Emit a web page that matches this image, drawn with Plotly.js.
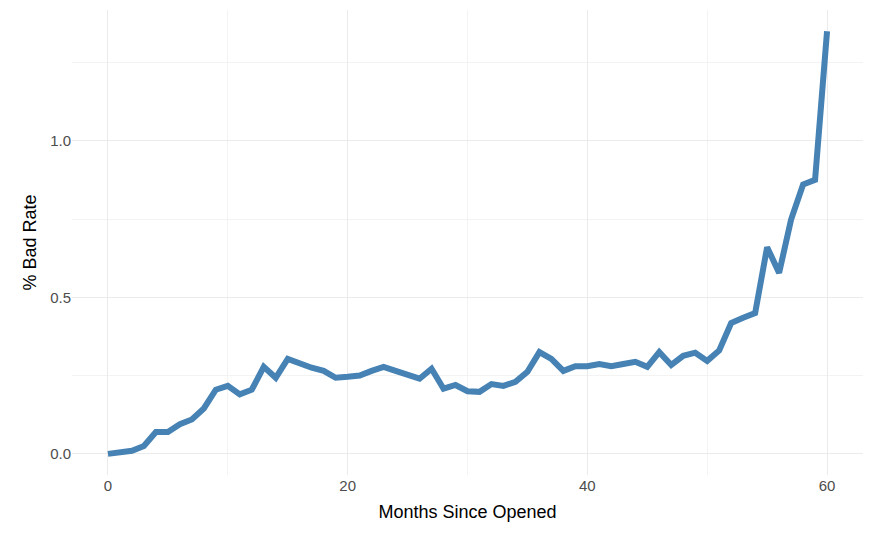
<html><head><script src="https://cdn.plot.ly/plotly-3.0.1.min.js"></script></head><body style="margin:0">
<div id="c" style="width:874px;height:540px"></div>
<script>
const months = Array.from({length:61},(_,i)=>i);
const badRate = [0.0,0.003,0.01,0.025,0.07,0.07,0.095,0.11,0.145,0.205,0.217,0.19,0.205,0.278,0.243,0.303,0.287,0.275,0.265,0.243,0.246,0.25,0.265,0.278,0.265,0.25,0.24,0.272,0.208,0.22,0.2,0.198,0.223,0.217,0.23,0.262,0.325,0.303,0.265,0.28,0.28,0.287,0.28,0.287,0.294,0.278,0.325,0.284,0.313,0.323,0.297,0.33,0.418,0.435,0.45,0.66,0.578,0.748,0.86,0.875,1.35];
const f={family:'Liberation Sans, Arial',size:18,color:'#000'};
const tf={family:'Liberation Sans, Arial',size:15,color:'#4D4D4D'};
Plotly.newPlot('c',[{x:months,y:badRate,mode:'lines',line:{color:'#4682B4',width:6}}],{
 width:874,height:540,margin:{l:72,r:11,t:10,b:65},paper_bgcolor:'#fff',plot_bgcolor:'#fff',showlegend:false,
 xaxis:{range:[-3,63],tickvals:[0,20,40,60],showgrid:true,gridcolor:'#EBEBEB',gridwidth:1.2,zeroline:false,
  minor:{tickvals:[10,30,50],showgrid:true,gridcolor:'#F3F3F3',gridwidth:0.8},
  tickfont:tf,ticks:'',
  title:{text:'Months Since Opened',font:f,standoff:12}},
 yaxis:{range:[-0.0675,1.4175],tickvals:[0,0.5,1.0],ticktext:['0.0','0.5','1.0'],showgrid:true,gridcolor:'#EBEBEB',gridwidth:1.2,zeroline:false,
  minor:{tickvals:[0.25,0.75,1.25],showgrid:true,gridcolor:'#F3F3F3',gridwidth:0.8},
  tickfont:tf,ticks:'',
  title:{text:'% Bad Rate',font:f,standoff:8}}
},{displayModeBar:false});
</script></body></html>
